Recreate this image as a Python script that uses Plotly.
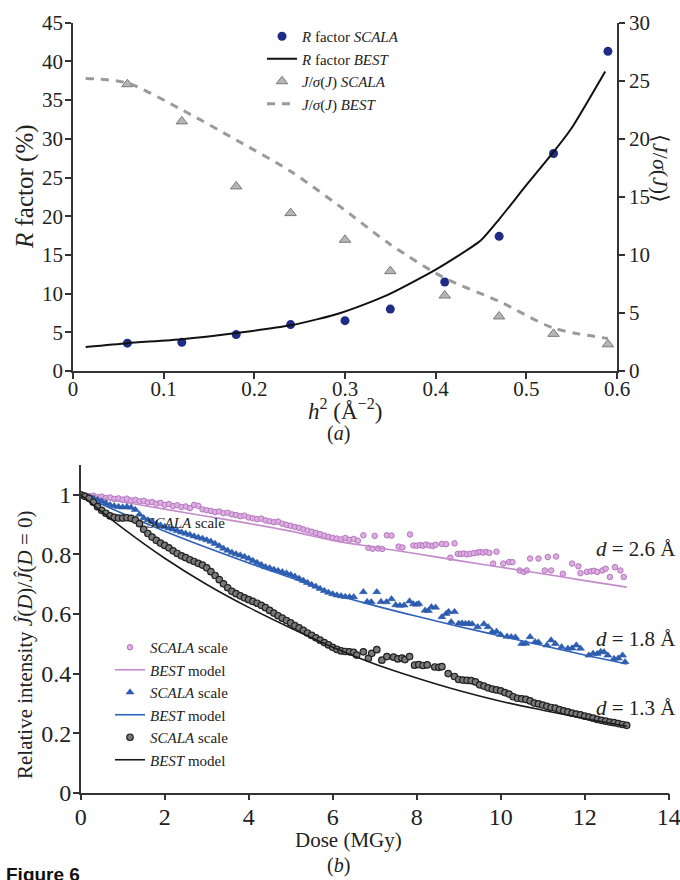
import plotly.graph_objects as go

# ---------------- Panel (a): R factor and <J/sigma(J)> vs h^2 ----------------
h2 = [0.06, 0.12, 0.18, 0.24, 0.30, 0.35, 0.41, 0.47, 0.53, 0.59]
r_scala = [3.6, 3.7, 4.7, 6.0, 6.5, 8.0, 11.5, 17.4, 28.1, 41.3]
isig_scala = [24.7, 21.5, 15.9, 13.6, 11.3, 8.6, 6.5, 4.7, 3.2, 2.3]

h2_r_model = [0.014, 0.06, 0.12, 0.18, 0.24, 0.27, 0.295, 0.33, 0.35, 0.40,
              0.45, 0.47, 0.50, 0.53, 0.55, 0.587]
r_best = [3.1, 3.6, 4.1, 4.9, 5.9, 6.7, 7.5, 9.0, 10.0, 13.1,
          16.9, 19.6, 24.0, 28.3, 31.4, 38.7]

h2_i_model = [0.014, 0.06, 0.12, 0.18, 0.24, 0.294, 0.35, 0.41, 0.47, 0.53, 0.59]
isig_best = [25.2, 24.8, 22.5, 19.9, 17.2, 14.2, 10.9, 8.0, 6.0, 3.7, 2.8]

# ---------------- Panel (b): relative intensity vs dose ----------------
dose_dense = [0.0, 0.1, 0.2, 0.3, 0.4, 0.5, 0.6, 0.7, 0.8, 0.9,
              1.0, 1.1, 1.2, 1.3, 1.4, 1.5, 1.6, 1.7, 1.8, 1.9,
              2.0, 2.1, 2.2, 2.3, 2.4, 2.5, 2.6, 2.7, 2.8, 2.9,
              3.0, 3.1, 3.2, 3.3, 3.4, 3.5, 3.6, 3.7, 3.8, 3.9,
              4.0, 4.1, 4.2, 4.3, 4.4, 4.5, 4.6, 4.7, 4.8, 4.9,
              5.0, 5.1, 5.2, 5.3, 5.4, 5.5, 5.6, 5.7, 5.8, 5.9, 6.0]

pink_dense = [1.000, 0.998, 0.995, 0.997, 0.992, 0.994, 0.989, 0.991, 0.986, 0.988,
              0.984, 0.987, 0.981, 0.983, 0.978, 0.980, 0.974, 0.976, 0.970, 0.973,
              0.966, 0.969, 0.962, 0.965, 0.959, 0.961, 0.955, 0.966, 0.963, 0.951,
              0.948, 0.946, 0.942, 0.944, 0.938, 0.940, 0.934, 0.932, 0.928, 0.930,
              0.924, 0.921, 0.918, 0.920, 0.914, 0.911, 0.908, 0.910, 0.903, 0.899,
              0.896, 0.892, 0.889, 0.884, 0.880, 0.876, 0.872, 0.868, 0.863, 0.859, 0.855]

blue_dense = [1.000, 0.996, 0.992, 0.988, 0.983, 0.978, 0.972, 0.966, 0.962, 0.960,
              0.958, 0.960, 0.957, 0.950, 0.934, 0.922, 0.915, 0.910, 0.903, 0.898,
              0.893, 0.888, 0.884, 0.879, 0.874, 0.870, 0.866, 0.861, 0.857, 0.853,
              0.848, 0.843, 0.836, 0.828, 0.820, 0.813, 0.806, 0.801, 0.797, 0.792,
              0.786, 0.779, 0.772, 0.765, 0.758, 0.754, 0.749, 0.745, 0.741, 0.737,
              0.732, 0.726, 0.719, 0.712, 0.705, 0.698, 0.692, 0.685, 0.678, 0.672, 0.667]

black_dense = [1.000, 0.995, 0.988, 0.975, 0.960, 0.948, 0.938, 0.929, 0.924, 0.922,
               0.922, 0.923, 0.921, 0.915, 0.903, 0.884, 0.870, 0.858, 0.847, 0.838,
               0.830, 0.822, 0.812, 0.803, 0.795, 0.789, 0.782, 0.776, 0.770, 0.764,
               0.755, 0.742, 0.729, 0.715, 0.701, 0.688, 0.676, 0.668, 0.661, 0.654,
               0.648, 0.642, 0.636, 0.629, 0.621, 0.612, 0.603, 0.594, 0.586, 0.578,
               0.570, 0.561, 0.553, 0.545, 0.536, 0.528, 0.520, 0.512, 0.504, 0.496, 0.488]

pink_dose_sparse = [6.1, 6.2, 6.3, 6.4, 6.5, 6.6, 6.73, 6.85, 6.95, 7.0,
                    7.08, 7.18, 7.29, 7.4, 7.57, 7.66, 7.84, 7.92, 8.0, 8.08,
                    8.15, 8.22, 8.3, 8.38, 8.45, 8.6, 8.7, 8.8, 8.9, 8.98,
                    9.05, 9.12, 9.2, 9.28, 9.36, 9.45, 9.51, 9.58, 9.66, 9.73,
                    9.82, 9.9, 10.06, 10.2, 10.28, 10.45, 10.55, 10.62, 10.7, 10.9,
                    11.05, 11.12, 11.2, 11.32, 11.48, 11.7, 11.85, 11.9, 12.05, 12.15,
                    12.22, 12.3, 12.42, 12.5, 12.6, 12.72, 12.85, 12.93]
pink_sparse = [0.853, 0.850, 0.855, 0.849, 0.852, 0.846, 0.864, 0.822, 0.819, 0.862,
               0.820, 0.818, 0.864, 0.863, 0.826, 0.823, 0.867, 0.830, 0.829, 0.831,
               0.829, 0.833, 0.830, 0.828, 0.832, 0.835, 0.834, 0.789, 0.837, 0.802,
               0.801, 0.803, 0.800, 0.802, 0.804, 0.806, 0.808, 0.806, 0.808, 0.805,
               0.769, 0.809, 0.769, 0.774, 0.774, 0.746, 0.741, 0.746, 0.786, 0.786,
               0.746, 0.791, 0.746, 0.793, 0.735, 0.769, 0.760, 0.737, 0.741, 0.743,
               0.745, 0.741, 0.746, 0.752, 0.724, 0.757, 0.746, 0.724]

blue_dose_sparse = [6.1, 6.2, 6.3, 6.4, 6.5, 6.73, 6.82, 6.92, 7.05, 7.15,
                    7.28, 7.4, 7.5, 7.6, 7.7, 7.83, 7.92, 8.0, 8.05, 8.2,
                    8.28, 8.35, 8.45, 8.6, 8.7, 8.76, 8.82, 8.9, 9.0, 9.08,
                    9.16, 9.24, 9.32, 9.45, 9.6, 9.7, 9.8, 9.9, 10.0, 10.15,
                    10.25, 10.35, 10.5, 10.6, 10.7, 10.82, 10.9, 11.1, 11.2, 11.3,
                    11.45, 11.6, 11.7, 11.8, 11.9, 12.1, 12.2, 12.3, 12.38, 12.46,
                    12.55, 12.7, 12.8, 12.9, 12.96]
blue_sparse = [0.663, 0.660, 0.658, 0.657, 0.657, 0.674, 0.641, 0.640, 0.674, 0.641,
               0.640, 0.650, 0.630, 0.628, 0.629, 0.643, 0.633, 0.632, 0.634, 0.612,
               0.611, 0.623, 0.622, 0.590, 0.601, 0.607, 0.573, 0.607, 0.568, 0.569,
               0.567, 0.568, 0.566, 0.556, 0.566, 0.556, 0.540, 0.541, 0.530, 0.524,
               0.523, 0.522, 0.500, 0.501, 0.523, 0.506, 0.505, 0.495, 0.512, 0.500,
               0.489, 0.484, 0.485, 0.495, 0.484, 0.461, 0.467, 0.466, 0.473, 0.472,
               0.461, 0.450, 0.451, 0.461, 0.439]

black_dose_sparse = [6.1, 6.2, 6.3, 6.4, 6.5, 6.57, 6.73, 6.85, 6.93, 7.05,
                     7.17, 7.29, 7.45, 7.55, 7.65, 7.72, 7.83, 7.95, 8.05, 8.15,
                     8.25, 8.43, 8.53, 8.6, 8.75, 8.9, 9.0, 9.1, 9.2, 9.3,
                     9.4, 9.5, 9.6, 9.7, 9.8, 9.9, 10.0, 10.1, 10.2, 10.3,
                     10.4, 10.5, 10.6, 10.7, 10.8, 10.9, 11.0, 11.1, 11.2, 11.3,
                     11.4, 11.5, 11.6, 11.7, 11.8, 11.9, 12.0, 12.1, 12.2, 12.3,
                     12.4, 12.5, 12.6, 12.7, 12.8, 12.9, 13.0]
black_sparse = [0.481, 0.476, 0.474, 0.473, 0.471, 0.462, 0.473, 0.451, 0.468, 0.480,
                0.445, 0.457, 0.455, 0.449, 0.452, 0.447, 0.457, 0.428, 0.430, 0.427,
                0.429, 0.422, 0.421, 0.423, 0.400, 0.390, 0.380, 0.378, 0.377, 0.376,
                0.372, 0.362, 0.358, 0.352, 0.348, 0.345, 0.342, 0.336, 0.331, 0.322,
                0.317, 0.315, 0.313, 0.308, 0.301, 0.298, 0.294, 0.290, 0.286, 0.284,
                0.279, 0.275, 0.271, 0.267, 0.264, 0.261, 0.257, 0.254, 0.250, 0.246,
                0.243, 0.240, 0.237, 0.235, 0.232, 0.229, 0.226]

dose_model = [0, 1, 2, 3, 4, 5, 6, 7, 8, 9, 10, 11, 12, 13]
pink_model = [1.0, 0.976, 0.952, 0.928, 0.904, 0.878, 0.847, 0.824, 0.802, 0.779, 0.757, 0.735, 0.712, 0.690]
blue_model = [1.0, 0.937, 0.878, 0.823, 0.771, 0.722, 0.668, 0.628, 0.592, 0.558, 0.526, 0.494, 0.462, 0.432]
black_model = [1.0, 0.888, 0.787, 0.699, 0.622, 0.553, 0.488, 0.432, 0.385, 0.343, 0.307, 0.277, 0.249, 0.223]

SERIF = "Liberation Serif"
SANS = "Liberation Sans"
W, H = 680, 880


def px(x):
    return x / W


def py(y):
    return 1 - y / H


fig = go.Figure()

# ---- panel (a) traces ----
fig.add_trace(go.Scatter(
    x=h2, y=r_scala, mode="markers", name="<i>R</i> factor <i>SCALA</i>",
    marker=dict(symbol="circle", size=9, color="#1e2c86"),
    xaxis="x", yaxis="y", legend="legend"))
fig.add_trace(go.Scatter(
    x=h2_r_model, y=r_best, mode="lines", name="<i>R</i> factor <i>BEST</i>",
    line=dict(color="#111111", width=2, shape="spline", smoothing=0.6),
    xaxis="x", yaxis="y", legend="legend"))
fig.add_trace(go.Scatter(
    x=h2, y=isig_scala, mode="markers", name="<i>J</i>/<i>σ</i>(<i>J</i>) <i>SCALA</i>",
    marker=dict(symbol="triangle-up", size=10, color="#b5b5b5",
                line=dict(color="#7a7a7a", width=1)),
    xaxis="x", yaxis="y2", legend="legend"))
fig.add_trace(go.Scatter(
    x=h2_i_model, y=isig_best, mode="lines", name="<i>J</i>/<i>σ</i>(<i>J</i>) <i>BEST</i>",
    line=dict(color="#9a9a9a", width=3, dash="8px,7px", shape="spline", smoothing=0.8),
    xaxis="x", yaxis="y2", legend="legend"))

# ---- panel (b) traces ----
groups = [
    (pink_dense, pink_dose_sparse, pink_sparse, pink_model,
     dict(symbol="circle", size=5.5, color="#dcaee0", line=dict(color="#b574c0", width=1)),
     "#c48bcc"),
    (blue_dense, blue_dose_sparse, blue_sparse, blue_model,
     dict(symbol="triangle-up", size=7, color="#2d5fb4", line=dict(color="#234f9e", width=0.5)),
     "#2e63b8"),
    (black_dense, black_dose_sparse, black_sparse, black_model,
     dict(symbol="circle", size=6.5, color="#7a7a7a", line=dict(color="#222222", width=1.2)),
     "#1a1a1a"),
]
for dense, sdose, sval, model, mk, lc in groups:
    fig.add_trace(go.Scatter(
        x=dose_dense + sdose, y=dense + sval, mode="markers",
        name="<i>SCALA</i> scale", marker=mk,
        xaxis="x3", yaxis="y3", legend="legend2"))
    fig.add_trace(go.Scatter(
        x=dose_model, y=model, mode="lines", name="<i>BEST</i> model",
        line=dict(color=lc, width=1.6, shape="spline"),
        xaxis="x3", yaxis="y3", legend="legend2"))

axis_common = dict(showline=True, linecolor="#333333", linewidth=1.5,
                   ticks="outside", ticklen=6, tickwidth=1.5, tickcolor="#333333",
                   showgrid=False, zeroline=False, automargin=False,
                   ticklabeloverflow="allow")

fig.update_layout(
    template="none",
    width=W, height=H,
    margin=dict(l=0, r=0, t=0, b=0, pad=0, autoexpand=False),
    paper_bgcolor="white", plot_bgcolor="white",
    font=dict(family=SERIF, color="#222222"),
    xaxis=dict(domain=[px(73), px(617)], range=[0, 0.6], tick0=0, dtick=0.1,
               anchor="y", ticklabelstandoff=-8,
               tickfont=dict(family=SERIF, size=21, color="#222222"), **axis_common),
    yaxis=dict(domain=[py(371), py(22.7)], range=[0, 45], tick0=0, dtick=5,
               anchor="x", ticklabelstandoff=-2,
               tickfont=dict(family=SERIF, size=21, color="#222222"), **axis_common),
    yaxis2=dict(overlaying="y", side="right", range=[0, 30], tick0=0, dtick=5,
                anchor="x", tickfont=dict(family=SERIF, size=21, color="#222222"), **axis_common),
    xaxis3=dict(domain=[px(80.7), px(668.7)], range=[0, 14], tick0=0, dtick=2,
                anchor="y3", ticklabelstandoff=-4,
                tickfont=dict(family=SERIF, size=24, color="#222222"), **axis_common),
    yaxis3=dict(domain=[py(792.7), py(465)], range=[0, 1.1],
                tickvals=[0, 0.2, 0.4, 0.6, 0.8, 1], ticktext=["0", "0.2", "0.4", "0.6", "0.8", "1"],
                anchor="x3", ticklabelstandoff=-3,
                tickfont=dict(family=SERIF, size=24, color="#222222"), **axis_common),
    legend=dict(x=px(262), y=py(20), xanchor="left", yanchor="top",
                bgcolor="rgba(0,0,0,0)", itemwidth=30, tracegroupgap=0,
                font=dict(family=SERIF, size=15, color="#222222")),
    legend2=dict(x=px(110), y=py(631), xanchor="left", yanchor="top",
                 bgcolor="rgba(0,0,0,0)", itemwidth=30, tracegroupgap=0,
                 font=dict(family=SERIF, size=15, color="#222222")),
    showlegend=True,
)

annotations = [
    # panel (a) axis titles and caption
    dict(x=px(25), y=py(187), text="<i>R</i> factor (%)", textangle=-90,
         font=dict(size=25)),
    dict(x=px(345), y=py(410), text="<i>h</i><sup>2</sup> (Å<sup>−2</sup>)",
         font=dict(size=23)),
    dict(x=px(338), y=py(433), text="(<i>a</i>)", font=dict(size=20)),
    dict(x=px(661), y=py(168), text="⟨<i>J</i>/<i>σ</i>(<i>J</i>)⟩", textangle=90,
         font=dict(size=22)),
    # panel (b) axis titles, caption and curve labels
    dict(x=px(25), y=py(645),
         text="Relative intensity <i>Ĵ</i>(<i>D</i>)/<i>Ĵ</i>(<i>D</i> = 0)",
         textangle=-90, font=dict(size=21)),
    dict(x=px(348), y=py(840), text="Dose (MGy)", font=dict(size=21)),
    dict(x=px(338), y=py(865), text="(<i>b</i>)", font=dict(size=20)),
    dict(x=px(594), y=py(549), text="<i>d</i> = 2.6 Å", xanchor="left", font=dict(size=21)),
    dict(x=px(594), y=py(639), text="<i>d</i> = 1.8 Å", xanchor="left", font=dict(size=21)),
    dict(x=px(594), y=py(708), text="<i>d</i> = 1.3 Å", xanchor="left", font=dict(size=21)),
    dict(x=px(145), y=py(523), text="<i>SCALA</i> scale", xanchor="left", font=dict(size=15)),
    # figure number at the foot of the page
    dict(x=px(4), y=py(862), text="<b>Figure 6</b>", xanchor="left", yanchor="top",
         font=dict(family=SANS, size=19, color="#111111")),
]
for a in annotations:
    a.setdefault("xref", "paper")
    a.setdefault("yref", "paper")
    a.setdefault("showarrow", False)
    a.setdefault("xanchor", "center")
    a.setdefault("yanchor", "middle")
    a["font"] = dict({"family": SERIF, "color": "#222222"}, **a["font"])
fig.update_layout(annotations=annotations)

fig.write_html("out.html")
